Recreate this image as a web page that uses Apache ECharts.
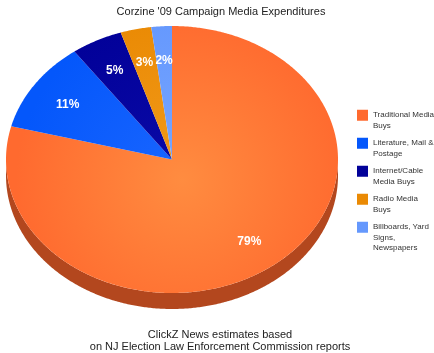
<!DOCTYPE html>
<html>
<head>
<meta charset="utf-8">
<script src="https://cdn.jsdelivr.net/npm/echarts@6/dist/echarts.min.js"></script>
<style>
  html, body { margin: 0; padding: 0; background: #fff; }
  #chart { width: 434px; height: 353px; }
</style>
</head>
<body>
<div id="chart"></div>
<script>
// data
var categories = ["Traditional Media Buys", "Literature, Mail & Postage", "Internet/Cable Media Buys", "Radio Media Buys", "Billboards, Yard Signs, Newspapers"];
var legendLabels = ["Traditional Media\nBuys", "Literature, Mail &\nPostage", "Internet/Cable\nMedia Buys", "Radio Media\nBuys", "Billboards, Yard\nSigns,\nNewspapers"];
var values = [79, 11, 5, 3, 2];

// colours
var topColors = ["#ff6a2f", "#0457fb", "#020199", "#ea8a04", "#6598fd"];
var centerColors = ["#ff8c40", "#1a66ff", "#0a0aa8", "#f29a1a", "#78a6ff"];
var sideColors = ["#b3471e", "#0336a0", "#010066", "#a56000", "#4467b0"];

// pie geometry (pixels)
var CX = 172, CY = 159.5, RX = 166, RY = 133.5, DEPTH = 16, LABEL_K = 0.76;

var total = values.reduce(function (a, b) { return a + b; }, 0);

function pt(t, dy) {
  var a = t * Math.PI * 2;
  return [CX + RX * Math.sin(a), CY - RY * Math.cos(a) + (dy || 0)];
}

function arc(t0, t1, dy) {
  var pts = [];
  var n = Math.max(2, Math.ceil((t1 - t0) * 720));
  for (var k = 0; k <= n; k++) pts.push(pt(t0 + (t1 - t0) * k / n, dy));
  return pts;
}

function makeRender(i) {
  return function (params, api) {
    var before = 0;
    for (var j = 0; j < i; j++) before += values[j];
    var v = api.value(0);
    var t0 = before / total, t1 = (before + v) / total;
    var children = [];

    // side wall, front half only
    var s0 = Math.max(t0, 0.25), s1 = Math.min(t1, 0.75);
    if (s1 > s0) {
      var upper = arc(s0, s1, 0);
      var lower = arc(s0, s1, DEPTH).reverse();
      children.push({
        type: 'polygon',
        z2: 1,
        shape: { points: upper.concat(lower) },
        style: { fill: sideColors[i] }
      });
    }

    // top face
    children.push({
      type: 'polygon',
      z2: 5,
      shape: { points: [[CX, CY]].concat(arc(t0, t1, 0)) },
      style: {
        fill: {
          type: 'radial', x: CX + 10, y: CY + 20, r: RX, global: true,
          colorStops: [{ offset: 0, color: centerColors[i] }, { offset: 1, color: topColors[i] }]
        }
      }
    });

    // percent label
    var a = (t0 + t1) * Math.PI;
    children.push({
      type: 'text',
      z2: 10,
      style: {
        text: Math.round(v / total * 100) + '%',
        x: CX + RX * LABEL_K * Math.sin(a),
        y: CY - RY * LABEL_K * Math.cos(a) + 2,
        fill: '#fff',
        font: 'bold 12px "Liberation Sans", Arial, sans-serif',
        align: 'center',
        verticalAlign: 'middle'
      }
    });

    return { type: 'group', children: children };
  };
}

var series = categories.map(function (name, i) {
  return {
    type: 'custom',
    name: name,
    coordinateSystem: 'none',
    itemStyle: { color: topColors[i] },
    renderItem: makeRender(i),
    data: [[values[i]]]
  };
});

// pad every legend label to 5 lines with the first real line in the middle,
// so it starts level with the icon and all entries share one height
function padLabel(label) {
  var lines = label.split('\n');
  while (lines.length < 3) lines.push('');
  return '\n\n' + lines.join('\n');
}

var chart = echarts.init(document.getElementById('chart'));
var option = {
  animation: false,
  backgroundColor: '#fff',
  title: [
    {
      text: "Corzine '09 Campaign Media Expenditures",
      left: 216,
      top: 1,
      textAlign: 'center',
      textStyle: { fontSize: 11, fontWeight: 'normal', color: '#222', fontFamily: '"Liberation Sans", Arial, sans-serif' }
    },
    {
      text: "ClickZ News estimates based\non NJ Election Law Enforcement Commission reports",
      left: 215,
      top: 324,
      textAlign: 'center',
      textStyle: { fontSize: 11, fontWeight: 'normal', color: '#222', lineHeight: 12, fontFamily: '"Liberation Sans", Arial, sans-serif' }
    }
  ],
  legend: {
    orient: 'vertical',
    left: 352,
    top: 84,
    icon: 'rect',
    itemWidth: 11,
    itemHeight: 11,
    itemGap: -24.5,
    selectedMode: false,
    data: categories,
    formatter: function (name) { return padLabel(legendLabels[categories.indexOf(name)]); },
    textStyle: {
      fontSize: 8,
      lineHeight: 10.5,
      color: '#333',
      fontFamily: '"Liberation Sans", Arial, sans-serif'
    }
  },
  series: series
};
chart.setOption(option);
</script>
</body>
</html>
